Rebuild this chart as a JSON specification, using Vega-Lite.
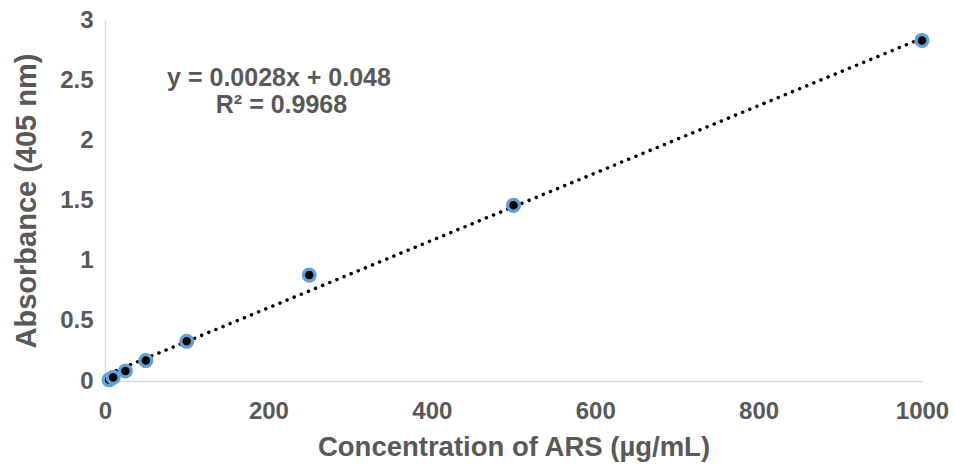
{
  "$schema": "https://vega.github.io/schema/vega-lite/v6.json",
  "width": 817,
  "height": 361,
  "autosize": {"type": "none"},
  "padding": {"left": 105, "top": 20, "right": 33, "bottom": 87},
  "background": "white",
  "config": {
    "view": {"stroke": null},
    "font": "Liberation Sans",
    "axis": {
      "grid": false,
      "ticks": false,
      "labelFlush": false,
      "domainColor": "#d9d9d9",
      "domainWidth": 1.5,
      "labelColor": "#595959",
      "labelFont": "Liberation Sans",
      "labelFontWeight": "bold",
      "labelFontSize": 24,
      "titleColor": "#595959",
      "titleFont": "Liberation Sans",
      "titleFontWeight": "bold"
    }
  },
  "datasets": {
    "points": [
      {"conc": 5, "abs": 0.01},
      {"conc": 10, "abs": 0.03},
      {"conc": 25, "abs": 0.083},
      {"conc": 50, "abs": 0.17},
      {"conc": 100, "abs": 0.33},
      {"conc": 250, "abs": 0.88},
      {"conc": 500, "abs": 1.46},
      {"conc": 1000, "abs": 2.83}
    ],
    "trend": [
      {"conc": 5, "abs": 0.062},
      {"conc": 1000, "abs": 2.848}
    ],
    "labels": [
      {"conc": 213, "abs": 2.52, "label": "y = 0.0028x + 0.048"},
      {"conc": 216, "abs": 2.29, "label": "R² = 0.9968"}
    ]
  },
  "layer": [
    {
      "data": {"name": "trend"},
      "mark": {"type": "line", "color": "black", "strokeWidth": 3.5, "strokeDash": [0.1, 7.6], "strokeCap": "round"},
      "encoding": {
        "x": {"field": "conc", "type": "quantitative", "scale": {"domain": [0, 1000], "nice": false},
              "axis": {"values": [0, 200, 400, 600, 800, 1000], "format": "d", "labelPadding": 18, "titlePadding": 10, "titleFontSize": 27.5},
              "title": "Concentration of ARS (µg/mL)"},
        "y": {"field": "abs", "type": "quantitative", "scale": {"domain": [0, 3], "nice": false},
              "axis": {"values": [0, 0.5, 1, 1.5, 2, 2.5, 3], "format": "~g", "labelPadding": 12, "titlePadding": 18, "titleFontSize": 29},
              "title": "Absorbance (405 nm)"}
      }
    },
    {
      "data": {"name": "points"},
      "mark": {"type": "point", "shape": "circle", "filled": true, "fill": "black", "stroke": "#62a0d8", "strokeWidth": 3.3, "size": 140, "opacity": 1},
      "encoding": {
        "x": {"field": "conc", "type": "quantitative"},
        "y": {"field": "abs", "type": "quantitative"}
      }
    },
    {
      "data": {"name": "labels"},
      "mark": {"type": "text", "fontSize": 25, "fontWeight": "bold", "color": "#595959", "align": "center", "baseline": "middle"},
      "encoding": {
        "x": {"field": "conc", "type": "quantitative"},
        "y": {"field": "abs", "type": "quantitative"},
        "text": {"field": "label"}
      }
    }
  ]
}
